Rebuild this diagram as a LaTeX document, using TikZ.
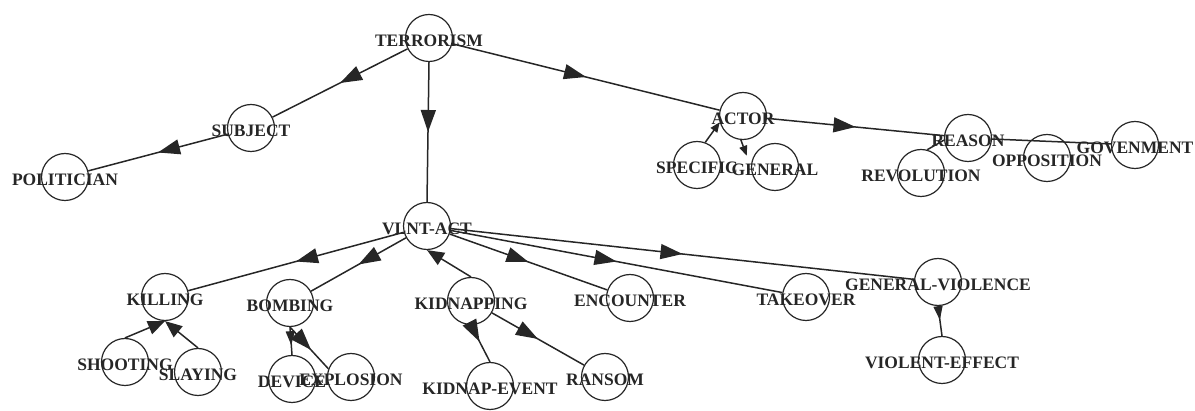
\documentclass[tikz,border=0pt]{standalone}
\usepackage{fontspec}
\setmainfont{Liberation Serif}
\usetikzlibrary{arrows.meta,decorations.markings}
\begin{document}
\begin{tikzpicture}[x=1pt,y=-1pt,
  concept/.style={circle,draw=black!85,line width=1.2pt,minimum size=47pt,inner sep=0pt},
  lbl/.style={font=\bfseries\fontsize{17.5}{17.5}\selectfont,text=black!85,inner sep=0pt,yshift=-2.5pt},
  link/.style={draw=black!85,line width=1.5pt},
  marr/.style={postaction={decorate},decoration={markings,mark=at position #1 with {\arrow{Triangle[length=22pt,width=15pt]}}}},
  marr/.default=0.5,
  msmall/.style={postaction={decorate},decoration={markings,mark=at position #1 with {\arrow{Triangle[length=14pt,width=9pt]}}}},
  tipend/.style={-{Triangle[length=17pt,width=14pt]}},
  tipsmall/.style={-{Triangle[length=10pt,width=8pt]}}
]
\useasboundingbox (0,0) rectangle (1195,411);

% concepts
\node[concept,label={[lbl]center:TERRORISM}] (terr) at (429,38) {};
\node[concept,label={[lbl]center:SUBJECT}] (subj) at (251,128) {};
\node[concept,label={[lbl]center:POLITICIAN}] (pol) at (65,177) {};
\node[concept,label={[lbl]center:VLNT-ACT}] (vlnt) at (427,226) {};
\node[concept,label={[lbl]center:ACTOR}] (actor) at (743,116) {};
\node[concept,label={[lbl]center:SPECIFIC}] (spec) at (697,165) {};
\node[concept,label={[lbl]center:GENERAL}] (gen) at (775,167) {};
\node[concept,label={[lbl]center:REASON}] (reason) at (968,138) {};
\node[concept,label={[lbl]center:REVOLUTION}] (revol) at (921,173) {};
\node[concept,label={[lbl]center:OPPOSITION}] (oppos) at (1047,158) {};
\node[concept,label={[lbl]center:GOVENMENT}] (gov) at (1135,145) {};
\node[concept,label={[lbl]center:KILLING}] (kill) at (165,297) {};
\node[concept,label={[lbl]center:SHOOTING}] (shoot) at (125,362) {};
\node[concept,label={[lbl]center:SLAYING}] (slay) at (198,372) {};
\node[concept,label={[lbl]center:BOMBING}] (bomb) at (290,303) {};
\node[concept,label={[lbl]center:DEVICE}] (device) at (292,379) {};
\node[concept,label={[lbl]center:EXPLOSION}] (expl) at (351,377) {};
\node[concept,label={[lbl]center:KIDNAPPING}] (kidn) at (471,301) {};
\node[concept,label={[lbl]center:KIDNAP-EVENT}] (kevent) at (490,386) {};
\node[concept,label={[lbl]center:RANSOM}] (ransom) at (605,377) {};
\node[concept,label={[lbl]center:ENCOUNTER}] (enc) at (630,298) {};
\node[concept,label={[lbl]center:TAKEOVER}] (take) at (806,297) {};
\node[concept,label={[lbl]center:GENERAL-VIOLENCE}] (genv) at (938,282) {};
\node[concept,label={[lbl]center:VIOLENT-EFFECT}] (veff) at (942,360) {};

% connectors
\draw[link,marr] (terr) -- (subj);
\draw[link,marr] (subj) -- (pol);
\draw[link,marr] (terr.south) -- (vlnt.north);
\draw[link,marr] (terr) -- (actor);
\draw[link,marr] (actor) -- (reason);
\draw[link,tipsmall] (spec.70) -- (actor.195);
\draw[link,tipsmall,shorten >=12pt] (actor.265) -- (gen.west);
\draw[link] (revol.75) -- (reason.185);
\draw[link] (reason) -- (gov);

\draw[link,marr] (vlnt) -- (kill);
\draw[link,marr] (vlnt) -- (bomb);
\draw[link,tipend] (kidn.north) -- (vlnt.south);
\draw[link,marr=0.45] (kidn.south) -- (kevent.north);
\draw[link,marr] (kidn) -- (ransom);
\draw[link,marr] (vlnt) -- (enc);
\draw[link,marr] (vlnt) -- (take);
\draw[link,marr] (vlnt) -- (genv);
\draw[link,msmall=0.47] (genv.south) -- (veff.north);

\draw[link,tipend] (shoot.north) -- (kill.south);
\draw[link,tipend] (slay.north) -- (kill.south);
\draw[link,msmall=0.65] (bomb.south) -- (device.north);
\draw[link,marr=0.55] (bomb.south) -- (expl.160);
\end{tikzpicture}
\end{document}
